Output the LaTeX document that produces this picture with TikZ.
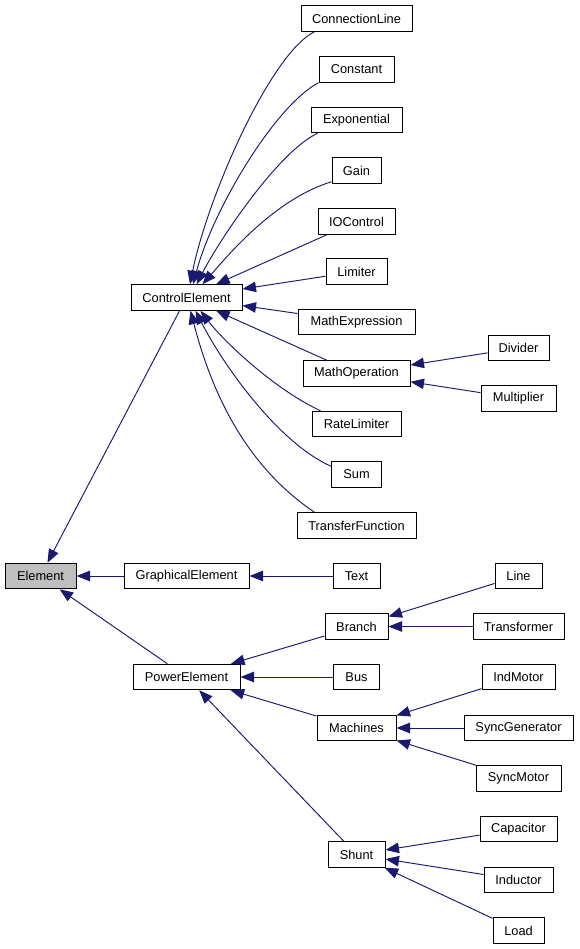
\documentclass[tikz,border=0pt]{standalone}
\usepackage{fontspec}
\setmainfont{Liberation Sans}
\usetikzlibrary{arrows.meta,calc}
\definecolor{edgeblue}{HTML}{191970}
\definecolor{grey75}{HTML}{BFBFBF}
\begin{document}
\begin{tikzpicture}[x=1pt,y=1pt,
  cls/.style={draw=black, line width=1pt, fill=white, minimum height=25.5pt, inner sep=0pt,
    font=\fontsize{12.8}{15}\selectfont},
  edge/.style={draw=edgeblue, line width=0.95pt, -{Triangle[length=13.5pt,width=10.5pt]}}]
\useasboundingbox (0,0) rectangle (579,-949);
% nodes
\node[cls, minimum width=111pt] (CL) at (356.5,-18.5) {ConnectionLine};
\node[cls, minimum width=75pt] (Const) at (356.5,-69.5) {Constant};
\node[cls, minimum width=91pt] (Exp) at (356.5,-120) {Exponential};
\node[cls, minimum width=49pt] (Gain) at (356.5,-170.5) {Gain};
\node[cls, minimum width=77pt] (IO) at (356.5,-221.5) {IOControl};
\node[cls, minimum width=61pt] (Lim) at (356.5,-271.5) {Limiter};
\node[cls, minimum width=111pt] (CE) at (186.5,-297.5) {ControlElement};
\node[cls, minimum width=117pt] (ME) at (356.5,-322) {MathExpression};
\node[cls, minimum width=107pt] (MO) at (356.5,-373.5) {MathOperation};
\node[cls, minimum width=61pt] (Div) at (518.5,-348) {Divider};
\node[cls, minimum width=75pt] (Mul) at (518.5,-398.5) {Multiplier};
\node[cls, minimum width=89pt] (RL) at (356.5,-424) {RateLimiter};
\node[cls, minimum width=50pt] (Sum) at (356.5,-474.5) {Sum};
\node[cls, minimum width=119pt] (TF) at (356.5,-525.5) {TransferFunction};
\node[cls, minimum width=47pt] (Text) at (356.5,-576) {Text};
\node[cls, minimum width=47pt] (Line) at (518.5,-576) {Line};
\node[cls, minimum width=63pt] (Branch) at (356.5,-626.5) {Branch};
\node[cls, minimum width=91pt] (Trans) at (518.5,-626.5) {Transformer};
\node[cls, minimum width=46pt] (Bus) at (356.5,-677) {Bus};
\node[cls, minimum width=73pt] (Ind) at (518.5,-677) {IndMotor};
\node[cls, minimum width=79pt] (Mach) at (356.5,-728) {Machines};
\node[cls, minimum width=109pt] (SyncG) at (518.5,-728) {SyncGenerator};
\node[cls, minimum width=85pt] (SyncM) at (518.5,-778.5) {SyncMotor};
\node[cls, minimum width=77pt] (Cap) at (518.5,-829) {Capacitor};
\node[cls, minimum width=57pt] (Shunt) at (356.5,-854.5) {Shunt};
\node[cls, minimum width=69pt] (Induc) at (518.5,-880) {Inductor};
\node[cls, minimum width=51pt] (Load) at (518.5,-930.5) {Load};
\node[cls, minimum width=71pt, fill=grey75] (Elem) at (40.5,-576) {Element};
\node[cls, minimum width=125pt] (GE) at (186.5,-576) {GraphicalElement};
\node[cls, minimum width=107pt] (PE) at (186.5,-677) {PowerElement};
% curved edges to ControlElement (top)
\draw[edge] ($(CL.south west)+(14,0)$) .. controls (270.5,-53.5) and (207.6,-196.8) .. ($(CE.north)+(3.5,0)$);
\draw[edge] (Const.south west) .. controls (275.5,-105.5) and (213.8,-207.4) .. ($(CE.north)+(6.5,0)$);
\draw[edge] ($(Exp.south west)+(7,0)$) .. controls (277.5,-152.4) and (219.3,-240.3) .. ($(CE.north)+(10,0)$);
\draw[edge] ($(Gain.south west)+(0,2)$) .. controls (275,-199) and (228.7,-254.5) .. ($(CE.north)+(16,0)$);
% straight edges to ControlElement
\draw[edge] (IO) -- (CE);
\draw[edge] (Lim) -- (CE);
\draw[edge] (ME) -- (CE);
\draw[edge] (MO) -- (CE);
% curved edges to ControlElement (bottom)
\draw[edge] ($(RL.north west)+(9,0)$) .. controls (275.5,-390) and (224.5,-342.3) .. ($(CE.south)+(14,0)$);
\draw[edge] ($(Sum.north west)+(0,-5)$) .. controls (277.4,-442.4) and (222.5,-363.7) .. ($(CE.south)+(9,0)$);
\draw[edge] ($(TF.north west)+(18,0)$) .. controls (261,-476.2) and (218,-417) .. ($(CE.south)+(4,0)$);
% other edges
\draw[edge] (Div) -- (MO);
\draw[edge] (Mul) -- (MO);
\draw[edge] (CE) -- (Elem);
\draw[edge] (GE) -- (Elem);
\draw[edge] (PE) -- (Elem);
\draw[edge] (Text) -- (GE);
\draw[edge] (Branch) -- (PE);
\draw[edge] (Bus) -- (PE);
\draw[edge] (Mach) -- (PE);
\draw[edge] (Shunt) -- (PE);
\draw[edge] (Line) -- (Branch);
\draw[edge] (Trans) -- (Branch);
\draw[edge] (Ind) -- (Mach);
\draw[edge] (SyncG) -- (Mach);
\draw[edge] (SyncM) -- (Mach);
\draw[edge] (Cap) -- (Shunt);
\draw[edge] (Induc) -- (Shunt);
\draw[edge] (Load) -- (Shunt);
\end{tikzpicture}
\end{document}
